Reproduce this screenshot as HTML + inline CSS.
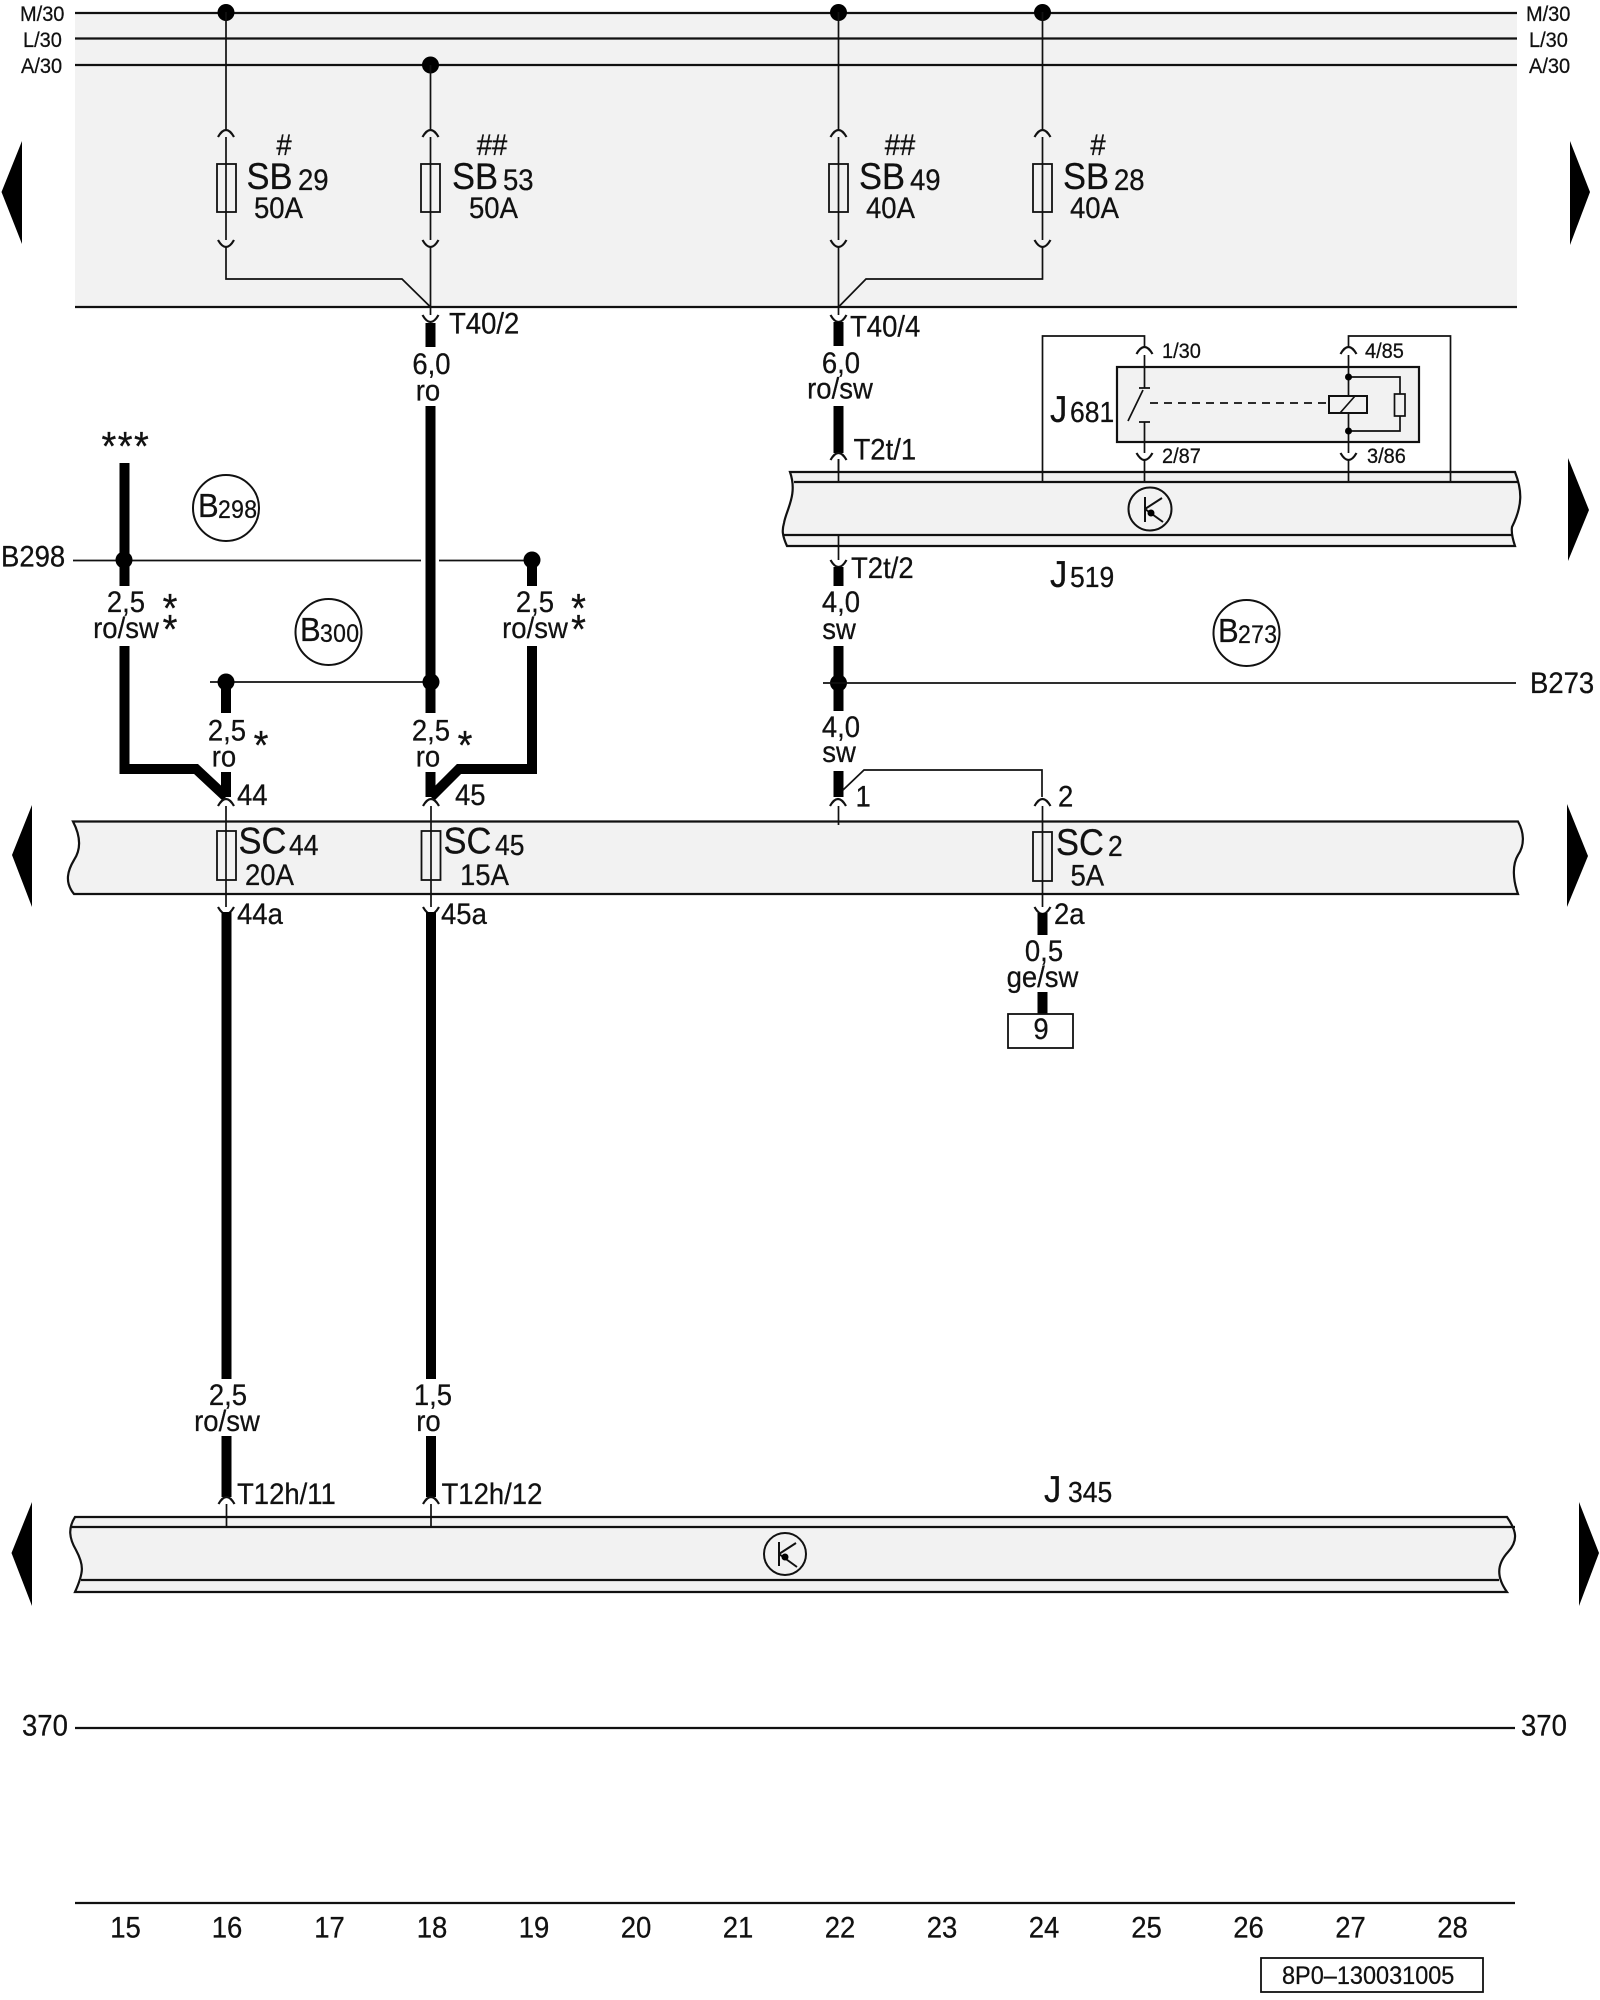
<!DOCTYPE html>
<html><head><meta charset="utf-8"><style>
html,body{margin:0;padding:0;background:#fff;width:1600px;height:2000px;overflow:hidden}
svg{display:block}
text{font-family:"Liberation Sans",Arial,sans-serif;fill:#111;stroke:#111;stroke-width:.25;transform-box:fill-box;transform-origin:50% 78%;transform:scaleY(1.08)}
.f27{font-size:27.5px}.f34{font-size:34.5px}.f25{font-size:26.5px}.f20{font-size:20px}.f23{font-size:23.5px}.f30{font-size:31px}.f23b{font-size:23px}.st{font-size:38px}
.m{text-anchor:middle}
.t{fill:none;stroke:#111;stroke-width:1.7}
.b{fill:none;stroke:#111;stroke-width:2.2}
.w{fill:none;stroke:#000;stroke-width:10;stroke-linejoin:miter}
.fz{fill:none;stroke:#111;stroke-width:1.8}
.band{fill:#f2f2f2;stroke:#111;stroke-width:2.2}
.k{fill:none;stroke:#111;stroke-width:2}
.a{fill:none;stroke:#111;stroke-width:2.2}
</style></head><body>
<svg width="1600" height="2000" viewBox="0 0 1600 2000" xmlns="http://www.w3.org/2000/svg">
<rect width="1600" height="2000" fill="#fff"/>
<!-- top grey area -->
<rect x="75" y="12" width="1442" height="295" fill="#f2f2f2"/>
<path class="b" d="M75,13H1517M75,38.5H1517M75,65H1517M75,307H1517"/>
<!-- bus labels -->
<g class="f20"><text x="20" y="21">M/30</text><text x="23" y="47">L/30</text><text x="21" y="73">A/30</text>
<text x="1526" y="21">M/30</text><text x="1529" y="47">L/30</text><text x="1529" y="73">A/30</text></g>
<!-- bus dots -->
<circle cx="226" cy="12.5" r="8.5"/><circle cx="430.5" cy="65" r="8.5"/><circle cx="838.5" cy="12.5" r="8.5"/><circle cx="1042.5" cy="12.5" r="8.5"/>
<!-- fuse columns top -->
<path class="t" d="M226,12V130M226,137V240M226,247V279H402L430.5,307"/>
<path class="t" d="M430.5,65V130M430.5,137V240M430.5,247V315"/>
<path class="t" d="M838.5,12V130M838.5,137V240M838.5,247V315"/>
<path class="t" d="M1042.5,12V130M1042.5,137V240M1042.5,247V279H866L838.5,307"/>
<g class="a">
<path d="M218,137Q226,123 234,137M218,240Q226,254 234,240"/>
<path d="M422.5,137Q430.5,123 438.5,137M422.5,240Q430.5,254 438.5,240"/>
<path d="M830.5,137Q838.5,123 846.5,137M830.5,240Q838.5,254 846.5,240"/>
<path d="M1034.5,137Q1042.5,123 1050.5,137M1034.5,240Q1042.5,254 1050.5,240"/>
<path d="M422.5,315Q430.5,329 438.5,315M830.5,315Q838.5,329 846.5,315"/>
</g>
<g class="fz"><rect x="217" y="164" width="19" height="48"/><rect x="421" y="164" width="19" height="48"/><rect x="829" y="164" width="19" height="48"/><rect x="1033" y="164" width="19" height="48"/></g>
<text class="f27 m" x="284" y="155">#</text><text class="f34" x="246.5" y="189">SB</text><text class="f27" x="298" y="190">29</text><text class="f27" x="254" y="218">50A</text>
<text class="f27 m" x="492" y="155">##</text><text class="f34" x="452" y="189">SB</text><text class="f27" x="503" y="190">53</text><text class="f27" x="469" y="218">50A</text>
<text class="f27 m" x="900" y="155">##</text><text class="f34" x="859" y="189">SB</text><text class="f27" x="910" y="190">49</text><text class="f27" x="866" y="218">40A</text>
<text class="f27 m" x="1098" y="155">#</text><text class="f34" x="1063" y="189">SB</text><text class="f27" x="1114" y="190">28</text><text class="f27" x="1070" y="218">40A</text>
<!-- T40 -->
<text class="f27" x="449" y="333.5">T40/2</text><text class="f27" x="850" y="336.5">T40/4</text>
<!-- arrows -->
<path d="M22,141L1.5,192L22,244Z"/><path d="M1570,141L1590,192L1570,245Z"/>
<path d="M1568,458L1589,510L1568,561Z"/>
<path d="M32,805L12,855L32,907Z"/><path d="M1567,804L1588,856L1567,907Z"/>
<path d="M32,1502L11.5,1553L32,1606Z"/><path d="M1579,1502L1599,1553L1579,1606Z"/>
<!-- column 431 wire -->
<path class="w" d="M430.5,323V347M430.5,406V713M430.5,772V797"/>
<text class="f27 m" x="431.5" y="374">6,0</text><text class="f27 m" x="428" y="400.5">ro</text>
<!-- column 839 wire upper -->
<path class="w" d="M838.5,322V346M838.5,406V453"/>
<text class="f27 m" x="841" y="373">6,0</text><text class="f27 m" x="840" y="398.5">ro/sw</text>
<text class="f27" x="853.5" y="459.5">T2t/1</text>
<path class="a" d="M830.5,460Q838.5,446 846.5,460"/><path class="t" d="M838.5,459V482"/>
<!-- J519 band -->
<path class="band" d="M790,472H1515C1522,490 1523,505 1512,527C1511,533 1513,540 1515,546H787C782,535 782,530 784,523C786,510 798,495 790,472Z"/>
<path class="b" d="M794,482H1519M784,535H1513"/>
<!-- J681 outer wires -->
<path class="t" d="M1042.5,482V336H1144.5V347M1144.5,355V388M1144.5,422V453M1144.5,460V482"/>
<path class="t" d="M1450.5,482V336H1348.5V347M1348.5,355V396M1348.5,413V453M1348.5,460V482"/>
<path class="t" d="M838.5,482V459"/>
<rect x="1117" y="367" width="302" height="75" fill="#f2f2f2" stroke="#111" stroke-width="2.2"/>
<path class="t" d="M1144.5,367V388M1144.5,422V442M1348.5,367V396M1348.5,413V442"/>
<path class="a" d="M1136.5,354Q1144.5,340 1152.5,354M1340.5,354Q1348.5,340 1356.5,354M1136.5,453Q1144.5,467 1152.5,453M1340.5,453Q1348.5,467 1356.5,453"/>
<path class="t" d="M1139,388H1150M1139,422H1150M1128,421L1143,390"/>
<path class="t" stroke-dasharray="8 6" d="M1150,403H1329"/>
<rect x="1329" y="396" width="38" height="17" fill="#f2f2f2" stroke="#111" stroke-width="2"/>
<path class="t" d="M1340,413L1355,396"/>
<path class="t" d="M1348.5,377H1400V394M1400,416V431H1348.5"/>
<rect x="1394.5" y="394" width="10.5" height="22" fill="#f2f2f2" stroke="#111" stroke-width="1.7"/>
<circle cx="1348.5" cy="377" r="3.5"/><circle cx="1348.5" cy="431" r="3.5"/>
<text class="f20" x="1162" y="358">1/30</text><text class="f20" x="1365" y="358">4/85</text><text class="f20" x="1162" y="463">2/87</text><text class="f20" x="1367" y="463">3/86</text>
<text class="f34" x="1050" y="422">J</text><text class="f25" x="1070" y="422">681</text>
<!-- K J519 -->
<circle class="k" cx="1150" cy="509" r="21.5" fill="none"/>
<path class="k" d="M1145,497V522M1145,509L1162,498M1145,509L1163,522"/>
<circle cx="1151" cy="513" r="3.5"/>
<text class="f34" x="1050" y="587">J</text><text class="f25" x="1070" y="587">519</text>
<!-- under J519 -->
<path class="t" d="M838.5,535V560"/><path class="a" d="M830.5,560Q838.5,574 846.5,560"/>
<text class="f27" x="851" y="578">T2t/2</text>
<path class="w" d="M838.5,567V586M838.5,646V711M838.5,771V797"/>
<text class="f27 m" x="841" y="612">4,0</text><text class="f27 m" x="839" y="639">sw</text>
<text class="f27 m" x="841" y="737">4,0</text><text class="f27 m" x="839" y="762">sw</text>
<circle cx="838.5" cy="683" r="8.5"/>
<path class="t" d="M823,683H1516"/>
<text class="f27" x="1530" y="693">B273</text>
<circle class="k" cx="1246.5" cy="633" r="33" stroke-width="1.6" fill="none"/>
<text class="f30" x="1218" y="642" textLength="20">B</text><text class="f23b" x="1238" y="643" textLength="39">273</text>
<!-- left wiring -->
<text class="st" x="101.5" y="460" letter-spacing="1.5">***</text>
<path class="w" stroke-linejoin="miter" d="M124.5,463V586M124.5,646V769H196L226,797"/>
<path class="w" d="M532,560V586M532,646V769H459L431,797"/>
<path class="t" d="M73,560.5H421M439,560.5H532"/>
<circle cx="124" cy="560" r="8.5"/><circle cx="532" cy="560" r="8.5"/>
<text class="f27" x="1" y="566.5">B298</text>
<circle class="k" cx="226" cy="508" r="33" stroke-width="1.6" fill="none"/>
<text class="f30" x="198" y="517" textLength="20">B</text><text class="f23b" x="218" y="518" textLength="39">298</text>
<circle class="k" cx="328.5" cy="632" r="33" stroke-width="1.6" fill="none"/>
<text class="f30" x="300" y="641" textLength="20">B</text><text class="f23b" x="320" y="642" textLength="39">300</text>
<text class="f27 m" x="126" y="612">2,5</text><text class="f27 m" x="126" y="638">ro/sw</text>
<text class="st m" x="170" y="622">*</text><text class="st m" x="170" y="643">*</text>
<text class="f27 m" x="535" y="612">2,5</text><text class="f27 m" x="535" y="638">ro/sw</text>
<text class="st m" x="578.5" y="622">*</text><text class="st m" x="578.5" y="643">*</text>
<path class="t" d="M210,682H431"/>
<circle cx="226" cy="682" r="8.5"/><circle cx="431" cy="682" r="8.5"/>
<path class="w" d="M226,682V713M226,772V797"/>
<text class="f27 m" x="227" y="740.5">2,5</text><text class="f27 m" x="224" y="766.5">ro</text><text class="st m" x="261" y="759">*</text>
<text class="f27 m" x="431" y="740.5">2,5</text><text class="f27 m" x="428" y="766.5">ro</text><text class="st m" x="465" y="759">*</text>
<text class="f27" x="237" y="805">44</text><text class="f27" x="455" y="805">45</text>
<text class="f27" x="855.5" y="806.5">1</text><text class="f27" x="1058" y="806.5">2</text>
<!-- SC band -->
<path class="band" d="M73,821.5H1518C1524,832 1525,845 1518,855C1512,865 1513,880 1518,894H74C64,882 68,870 74,860C82,848 80,835 73,821.5Z"/>
<path d="M843,790L864,770H1042V797" class="t"/>
<path class="a" d="M218,806Q226,792 234,806M423,806Q431,792 439,806M830,806Q838,792 846,806M1034.5,806Q1042.5,792 1050.5,806"/>
<path class="t" d="M226,806V907M431,806V907M838.5,806V825M1042.5,806V907"/>
<g class="fz"><rect x="217" y="831" width="19" height="49"/><rect x="421.5" y="831" width="19" height="49"/><rect x="1033" y="832" width="19" height="49"/></g>
<text class="f34" x="238.5" y="853.5">SC</text><text class="f25" x="289" y="855">44</text><text class="f27" x="245" y="885">20A</text>
<text class="f34" x="443.5" y="853.5">SC</text><text class="f25" x="495" y="855">45</text><text class="f27" x="460" y="885">15A</text>
<text class="f34" x="1056" y="855">SC</text><text class="f25" x="1108" y="856">2</text><text class="f27" x="1070.5" y="885.5">5A</text>
<path class="a" d="M218,907Q226,921 234,907M423,907Q431,921 439,907M1034.5,907Q1042.5,921 1050.5,907"/>
<text class="f27" x="237" y="924">44a</text><text class="f27" x="441" y="924">45a</text><text class="f27" x="1054" y="924">2a</text>
<!-- lower wires -->
<path class="w" d="M226.5,912V1379M226.5,1436V1497M431,912V1379M431,1436V1497M1042.5,913V935M1042.5,992V1014"/>
<text class="f27 m" x="1044" y="961">0,5</text><text class="f27 m" x="1042.5" y="987">ge/sw</text>
<rect x="1008" y="1014" width="65" height="34" class="fz"/>
<text class="f27 m" x="1041" y="1039">9</text>
<text class="f27 m" x="228" y="1405">2,5</text><text class="f27 m" x="227" y="1431">ro/sw</text>
<text class="f27 m" x="433" y="1405">1,5</text><text class="f27 m" x="428.5" y="1431">ro</text>
<text class="f27" x="237" y="1504">T12h/11</text><text class="f27" x="441.5" y="1504">T12h/12</text>
<text class="f34" x="1044" y="1502">J</text><text class="f25" x="1068" y="1502">345</text>
<path class="a" d="M218.5,1504Q226.5,1490 234.5,1504M423,1504Q431,1490 439,1504"/>
<!-- J345 band -->
<path class="band" d="M75,1517H1507C1516,1530 1519,1540 1508,1552C1496,1565 1497,1578 1507,1592H75C84,1572 84,1565 76,1550C69,1538 68,1528 75,1517Z"/>
<path class="b" d="M71,1527H1515M81,1580H1499"/>
<path class="t" d="M226.5,1504V1527M431,1504V1527"/>
<circle class="k" cx="785" cy="1554" r="21" fill="none"/>
<path class="k" d="M779,1542V1566M779,1554L796,1543M779,1554L797,1567"/>
<circle cx="785" cy="1557" r="3.5"/>
<!-- 370 -->
<path class="b" d="M75,1728H1515M75,1903H1515"/>
<text class="f27" x="22" y="1735.5">370</text><text class="f27" x="1521" y="1735.5">370</text>
<!-- ruler -->
<g class="f27 m">
<text x="125.5" y="1937.5">15</text><text x="227" y="1937.5">16</text><text x="329.5" y="1937.5">17</text><text x="432" y="1937.5">18</text><text x="534" y="1937.5">19</text><text x="636" y="1937.5">20</text><text x="738" y="1937.5">21</text><text x="840" y="1937.5">22</text><text x="942" y="1937.5">23</text><text x="1044" y="1937.5">24</text><text x="1146.5" y="1937.5">25</text><text x="1248.5" y="1937.5">26</text><text x="1350.5" y="1937.5">27</text><text x="1452.5" y="1937.5">28</text>
</g>
<rect x="1261" y="1958" width="222" height="34" class="fz"/>
<text class="f23" x="1282" y="1984">8P0–130031005</text>
</svg>
</body></html>
